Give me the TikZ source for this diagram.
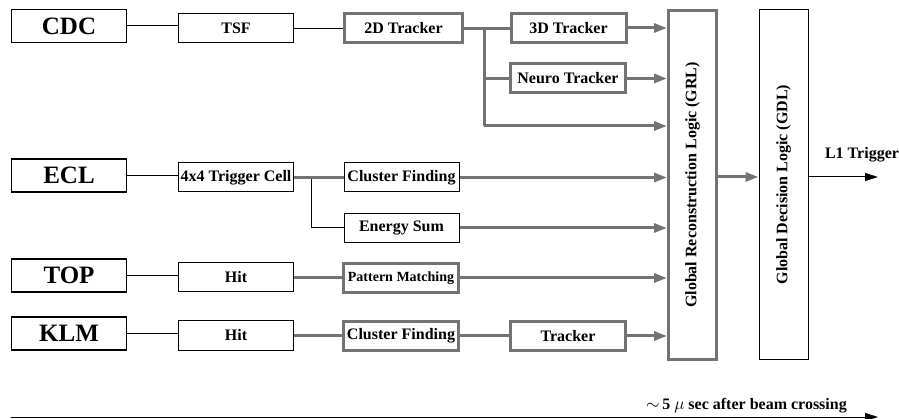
\documentclass[tikz,border=0pt]{standalone}
\usepackage{fontspec}
\setmainfont{Liberation Serif}
\usetikzlibrary{arrows.meta}
\definecolor{trggray}{RGB}{115,115,115}

\tikzset{
  det/.style={draw, line width=1.5pt, minimum width=115pt, minimum height=33pt, inner sep=0pt, font=\fontsize{25}{25}\selectfont\bfseries},
  blkbox/.style={draw, line width=1pt, minimum width=115pt, minimum height=29pt, inner sep=0pt, font=\fontsize{16}{16}\selectfont\bfseries},
  grybox/.style={draw=trggray, line width=3pt, minimum width=115pt, minimum height=29pt, inner sep=0pt, font=\fontsize{16}{16}\selectfont\bfseries},
  thin/.style={line width=1pt},
  thick gray/.style={draw=trggray, line width=3pt},
  garrow/.style={thick gray, -{Triangle[length=13pt,width=9pt]}},
  barrow/.style={thin, -{Triangle[length=13pt,width=8pt]}},
}

\begin{document}
\begin{tikzpicture}[x=1pt, y=-1pt]
\path [use as bounding box] (0,0) rectangle (899,419);

% detectors
\foreach \n/\y/\t in {cdc/26/CDC, ecl/175.5/ECL, top/275.5/TOP, klm/333.5/KLM} {
  \node [det] (\n) at (69,\y) {\t};
}

% first stage
\node [blkbox] (tsf) at (236,28.5) {TSF};
\node [blkbox] (cell) at (236,177.5) {4x4 Trigger Cell};
\node [blkbox] (tophit) at (236,277.5) {Hit};
\node [blkbox] (klmhit) at (236,335.5) {Hit};

% second stage
\node [grybox, minimum width=118pt] (trk2d) at (403.5,28.5) {2D Tracker};
\node [blkbox] (eclclus) at (401.5,177.5) {Cluster Finding};
\node [blkbox] (esum) at (401.5,228) {Energy Sum};
\node [grybox, font=\fontsize{14}{14}\selectfont\bfseries] (patt) at (401,278) {Pattern Matching};
\node [grybox] (klmclus) at (401,336) {Cluster Finding};

% third stage
\node [grybox] (trk3d) at (568.5,28) {3D Tracker};
\node [grybox] (neuro) at (568,78.5) {Neuro Tracker};
\node [grybox] (klmtrk) at (568,336) {Tracker};

% global logic
\node [draw=trggray, line width=3pt, minimum width=48pt, minimum height=348pt, inner sep=0pt] (grl) at (692.5,185) {};
\node [rotate=90, font=\fontsize{16}{16}\selectfont\bfseries] (grltext) at (grl.center) {Global Reconstruction Logic (GRL)};
\node [draw, line width=1pt, minimum width=49pt, minimum height=349pt, inner sep=0pt] (gdl) at (783.5,184.5) {};
\node [rotate=90, font=\fontsize{16}{16}\selectfont\bfseries] (gdltext) at (gdl.center) {Global Decision Logic (GDL)};

% black links
\foreach \a/\b in {cdc/tsf, tsf/trk2d, ecl/cell, top/tophit, klm/klmhit} {
  \draw [thin] (\a.east) -- (\a.east -| \b.west);
}
\coordinate (eclfork) at (311,177.5);
\draw [thin] (eclfork) |- (esum.west);

% gray links
\foreach \a/\b in {cell/eclclus, tophit/patt, klmhit/klmclus, klmclus/klmtrk, trk2d/trk3d} {
  \draw [thick gray] (\a.east) -- (\a.east -| \b.west);
}
\coordinate (cdcfork) at (484,28);
\coordinate (cdcend) at (484,126);
\draw [thick gray] (cdcfork) -- (cdcend);
\draw [thick gray] (cdcfork |- neuro) -- (neuro.west);

% into the GRL
\draw [garrow] (trk3d.east) -- (grl.west |- trk3d);
\draw [garrow] (neuro.east) -- (grl.west |- neuro);
\draw [garrow] (cdcend) -- (grl.west |- cdcend);
\draw [garrow] (eclclus.east) -- (grl.west |- eclclus);
\draw [garrow] (esum.east) -- (grl.west |- esum);
\draw [garrow] (patt.east) -- (grl.west |- patt);
\draw [garrow] (klmtrk.east) -- (grl.west |- klmtrk);

% output
\coordinate (grlout) at (grl.east |- 0,177);
\draw [garrow] (grlout) -- (gdl.west |- grlout);
\coordinate (l1end) at (878,177);
\draw [barrow] (gdl.east |- l1end) -- (l1end);
\node [font=\fontsize{16}{16}\selectfont\bfseries] (l1) at (862,155) {L1 Trigger};

% time axis
\coordinate (tstart) at (11,417);
\coordinate (tend) at (878,417);
\draw [barrow] (tstart) -- (tend);
\node [anchor=base east, inner sep=0pt, font=\fontsize{16}{16}\selectfont\bfseries] (tlabel) at (847,409) {$\sim$\,5 $\mu$ sec after beam crossing};
\end{tikzpicture}
\end{document}
